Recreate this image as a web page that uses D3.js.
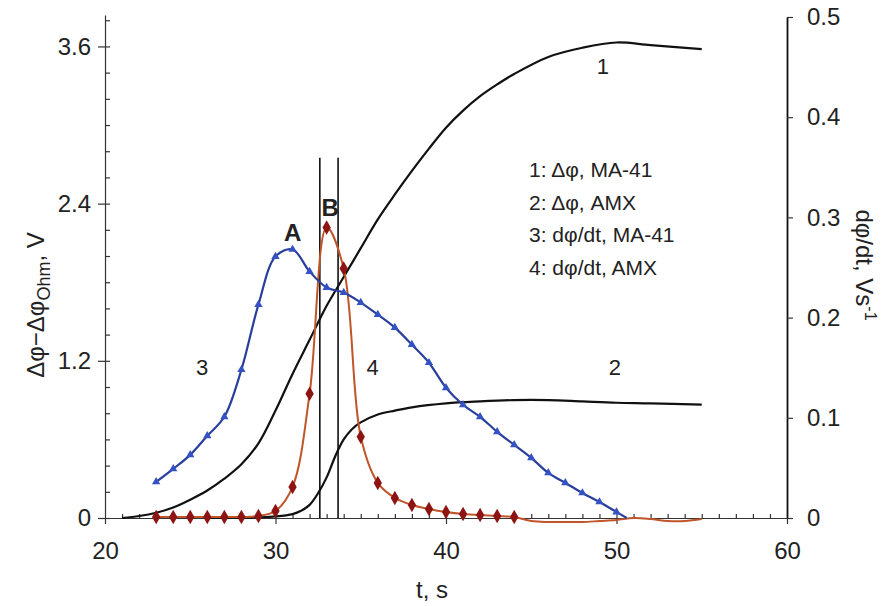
<!DOCTYPE html>
<html><head><meta charset="utf-8">
<script src="https://cdn.jsdelivr.net/npm/d3@7"></script>
<style>
body{margin:0;background:#fff;}
text{font-family:"Liberation Sans",Arial,sans-serif;fill:#222;}
</style></head><body>
<script>
// ---- data ----
const c1T = [21,22,23,24,25,26,27,28,29,30,31,32,33,34,35,36,37,38,39,40,41,42,43,44,46,48,50,52,55];
const c1V = [0,0.015,0.04,0.08,0.14,0.21,0.30,0.41,0.57,0.82,1.10,1.36,1.62,1.84,2.06,2.28,2.47,2.65,2.82,2.98,3.11,3.22,3.31,3.39,3.52,3.59,3.63,3.61,3.58];
const c2T = [26,28,29,30,31,31.5,32,32.5,33,33.5,34,34.5,35,36,37,38,40,42,44,46,48,50,52,55];
const c2V = [0,0.002,0.005,0.012,0.03,0.055,0.10,0.19,0.31,0.47,0.60,0.68,0.73,0.79,0.82,0.845,0.875,0.89,0.90,0.90,0.89,0.88,0.875,0.865];
const c3T = [23,24,25,26,27,28,29,30,31,32,33,34,35,36,37,38,39,40,41,42,43,44,45,46,47,48,49,50];
const c3V = [0.036,0.049,0.063,0.082,0.101,0.148,0.213,0.261,0.268,0.246,0.230,0.225,0.215,0.203,0.190,0.173,0.155,0.130,0.113,0.101,0.086,0.073,0.060,0.045,0.035,0.025,0.016,0.006];
const c3EndT = [50.6];
const c3EndV = [0];
const c4T = [23,24,25,26,27,28,29,30,31,32,33,34,35,36,37,38,39,40,41,42,43,44];
const c4V = [0.001,0.001,0.001,0.001,0.001,0.001,0.002,0.007,0.031,0.124,0.290,0.249,0.081,0.035,0.020,0.013,0.009,0.006,0.004,0.003,0.002,0.001];
const c4TailT = [45,46,47,48,49,50,51,52,53,54,55];
const c4TailV = [-0.003,-0.004,-0.004,-0.004,-0.003,-0.002,0,-0.001,-0.003,-0.003,-0.001];
const markerLinesT = [32.6, 33.67];
const markerLinesTop = 2.75;
const xTicks = [20,30,40,50,60];
const yLTicks = [0,1.2,2.4,3.6];
const yRTicks = [0,0.1,0.2,0.3,0.4,0.5];
const legendItems = ["1: \u0394\u03c6, MA-41","2: \u0394\u03c6, AMX","3: d\u03c6/dt, MA-41","4: d\u03c6/dt, AMX"];
const curveLabels = [{t:"1",x:49.2,y:3.45},{t:"2",x:49.9,y:1.15},{t:"3",x:25.7,y:1.15},{t:"4",x:35.7,y:1.15}];
const peakLabels = [{t:"A",x:31.0,y:2.18},{t:"B",x:33.2,y:2.37}];

// ---- scales ----
const W=892,H=606;
const x = d3.scaleLinear().domain([20,60]).range([105,787]);
const yL = d3.scaleLinear().domain([0,3.84]).range([518,15]);
const yR = d3.scaleLinear().domain([0,0.5]).range([518,17]);

const svg = d3.select("body").append("svg").attr("width",W).attr("height",H);

// axes
const fs = "24px";
svg.append("g").attr("transform","translate(0,518)")
  .call(d3.axisBottom(x).tickValues(xTicks).tickSize(6).tickSizeOuter(0).tickPadding(18));
svg.append("g").attr("transform","translate(0,518)")
  .call(d3.axisBottom(x).tickValues(d3.range(21,60)).tickSize(-4).tickFormat("")).select(".domain").remove();
svg.append("g").attr("transform","translate(105,0)")
  .call(d3.axisLeft(yL).tickValues(yLTicks).tickSize(7).tickSizeOuter(0).tickPadding(7).tickFormat(d=>d===0?"0":d3.format(".1f")(d)));
svg.append("g").attr("transform","translate(105,0)")
  .call(d3.axisLeft(yL).tickValues(d3.range(0,3.81,0.2)).tickSize(-5).tickFormat("")).select(".domain").remove();
const gr = svg.append("g").attr("transform","translate(787,0)")
  .call(d3.axisRight(yR).tickValues(yRTicks).tickSize(6).tickSizeOuter(0).tickPadding(14).tickFormat(d=>d===0?"0":d3.format(".1f")(d)));
svg.selectAll(".tick text").style("font-size",fs).style("font-family","'Liberation Sans',Arial,sans-serif").attr("fill","#222");
svg.selectAll(".domain, .tick line").attr("stroke","#333").attr("stroke-width",1.2);
gr.select(".domain").attr("stroke","#111").attr("stroke-width",1.8);

// axis titles
svg.append("text").attr("x",432).attr("y",598).attr("text-anchor","middle").style("font-size","24px").text("t, s");
const yt = svg.append("text").attr("transform","translate(44,305) rotate(-90)").attr("text-anchor","middle").style("font-size","24px");
yt.append("tspan").text("\u0394\u03c6\u2212\u0394\u03c6");
yt.append("tspan").attr("dy",6).style("font-size","18px").text("Ohm");
yt.append("tspan").attr("dy",-6).text(", V");
const rt = svg.append("text").attr("transform","translate(856,265) rotate(90)").attr("text-anchor","middle").style("font-size","24px");
rt.append("tspan").text("d\u03c6/dt, Vs");
rt.append("tspan").attr("dy",-9).style("font-size","16px").text("-1");

// vertical lines
svg.selectAll(".vl").data(markerLinesT).join("line")
  .attr("x1",d=>x(d)).attr("x2",d=>x(d)).attr("y1",yL(0)).attr("y2",yL(markerLinesTop))
  .attr("stroke","#111").attr("stroke-width",1.6);

// curves
const lineL = d3.line().x(d=>x(d[0])).y(d=>yL(d[1])).curve(d3.curveCatmullRom.alpha(0.5));
const lineR = d3.line().x(d=>x(d[0])).y(d=>yR(d[1])).curve(d3.curveCatmullRom.alpha(0.5));
const zip=(a,b)=>a.map((v,i)=>[v,b[i]]);
svg.append("path").attr("d",lineL(zip(c1T,c1V))).attr("fill","none").attr("stroke","#111").attr("stroke-width",2.2);
svg.append("path").attr("d",lineL(zip(c2T,c2V))).attr("fill","none").attr("stroke","#111").attr("stroke-width",2.2);

const c4line = zip(c4T,c4V).concat(zip(c4TailT,c4TailV));
svg.append("path").attr("d",lineR(c4line)).attr("fill","none").attr("stroke","#c0552a").attr("stroke-width",2);
svg.selectAll(".m4").data(zip(c4T,c4V)).join("path")
  .attr("transform",d=>`translate(${x(d[0])},${yR(d[1])})`)
  .attr("d",d3.symbol(d3.symbolDiamond,60)).attr("fill","#8e1414");

const c3line = zip(c3T,c3V).concat(zip(c3EndT,c3EndV));
svg.append("path").attr("d",lineR(c3line)).attr("fill","none").attr("stroke","#2a3e9c").attr("stroke-width",2.2);
svg.selectAll(".m3").data(zip(c3T,c3V)).join("path")
  .attr("transform",d=>`translate(${x(d[0])},${yR(d[1])})`)
  .attr("d",d3.symbol(d3.symbolTriangle,30)).attr("fill","#3552c4");

// labels
svg.selectAll(".cl").data(curveLabels).join("text")
  .attr("x",d=>x(d.x)).attr("y",d=>yL(d.y)).attr("dy","0.36em").attr("text-anchor","middle")
  .style("font-size","22px").text(d=>d.t);
svg.selectAll(".pl").data(peakLabels).join("text")
  .attr("x",d=>x(d.x)).attr("y",d=>yL(d.y)).attr("dy","0.36em").attr("text-anchor","middle")
  .style("font-size","24px").style("font-weight","bold").attr("fill","#111").text(d=>d.t);

// legend
svg.selectAll(".lg").data(legendItems).join("text")
  .attr("x",529).attr("y",(d,i)=>177+i*32.5).style("font-size","21px").text(d=>d);
</script></body></html>
